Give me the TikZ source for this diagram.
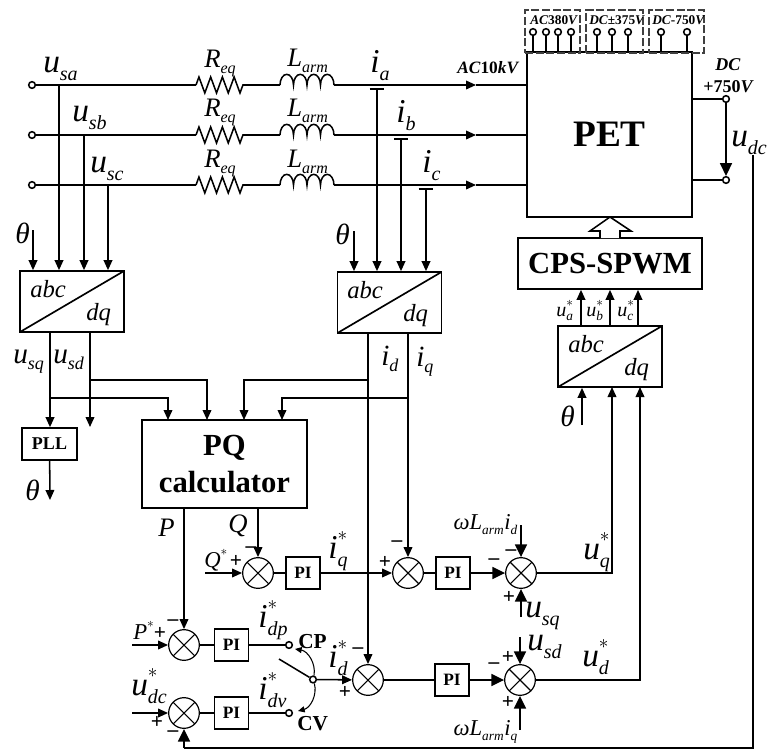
\documentclass[tikz,border=0pt]{standalone}
\usepackage{mathspec}
\setmainfont{Liberation Serif}
\setmathsfont(Digits,Latin,Greek){Liberation Serif}
\DeclareMathSizes{25}{25}{15}{13}
\DeclareMathSizes{22}{22}{13.5}{11}
\DeclareMathSizes{20}{20}{12}{10}
\DeclareMathSizes{17}{17}{10}{9}
\DeclareMathSizes{15}{15}{10}{8}
\everymath{\fontdimen16\textfont2=.25\fontdimen6\textfont2
	\fontdimen17\textfont2=.25\fontdimen6\textfont2
	\fontdimen13\textfont2=.52\fontdimen6\textfont2
	\fontdimen14\textfont2=.52\fontdimen6\textfont2
	\fontdimen15\textfont2=.52\fontdimen6\textfont2}
\usepackage{tikz}
\usetikzlibrary{positioning}
\usetikzlibrary{calc}
\usetikzlibrary{arrows.meta}
\usetikzlibrary{decorations.pathmorphing}

\tikzset{
	wire/.style={line width=1.15pt},
	arrowed/.style={wire, -{Triangle[length=7.5pt,width=6.5pt]}},
	bigarrow/.style={wire, -{Triangle[length=9.5pt,width=9pt]}},
	swingarrow/.style={line width=0.8pt, -{Triangle[length=5pt,width=4.5pt]}},
	resistor/.style={wire, decorate, decoration={zigzag, segment length=8.8pt, amplitude=6pt}},
	pinnode/.style={draw, circle, wire, fill=white, inner sep=0pt, minimum size=5pt},
	blockbox/.style={draw, rectangle, line width=1.25pt, inner sep=0pt},
	pibox/.style={blockbox, minimum width=25.5pt, minimum height=24pt, font=\fontsize{13}{13}\selectfont\bfseries},
	dashbox/.style={draw=black!75, rectangle, line width=0.8pt, dash pattern=on 6pt off 2pt, inner sep=0pt},
	sumnode/.style={draw, circle, line width=0.9pt, inner sep=0pt, minimum size=23pt,
		path picture={
			\draw[line width=0.8pt] (path picture bounding box.north west) -- (path picture bounding box.south east);
			\draw[line width=0.8pt] (path picture bounding box.north east) -- (path picture bounding box.south west);
		}},
	convbox/.style={blockbox, minimum width=78pt, minimum height=45.75pt,
		path picture={
			\draw[line width=1.25pt] (path picture bounding box.south west) -- (path picture bounding box.north east);
		}},
	biglbl/.style={anchor=base west, inner sep=0pt, font=\fontsize{25}{25}\selectfont},
	midlbl/.style={anchor=base west, inner sep=0pt, font=\fontsize{22}{22}\selectfont},
	stdlbl/.style={anchor=base west, inner sep=0pt, font=\fontsize{20}{20}\selectfont},
	loadlbl/.style={anchor=base west, inner sep=0pt, font=\fontsize{17}{17}\selectfont},
	reflbl/.style={anchor=base west, inner sep=0pt, font=\fontsize{15}{15}\selectfont},
	convlbl/.style={anchor=base west, inner sep=0pt, font=\fontsize{18.5}{19}\selectfont\itshape},
	boldlbl/.style={anchor=base west, inner sep=0pt, font=\fontsize{13.5}{15}\selectfont\bfseries},
	portlbl/.style={anchor=base west, inner sep=0pt, font=\fontsize{10}{10}\selectfont\bfseries},
	signlbl/.style={inner sep=0pt, font=\fontsize{16}{16}\selectfont\bfseries},
}

\newcommand{\armcoil}[1]{
	\draw[wire] (#1) arc[start angle=180, end angle=0, x radius=5.06pt, y radius=8pt]
		arc[start angle=180, end angle=0, x radius=5.06pt, y radius=8pt]
		arc[start angle=180, end angle=0, x radius=5.06pt, y radius=8pt]
		arc[start angle=180, end angle=0, x radius=5.06pt, y radius=8pt];
}

\begin{document}
\begin{tikzpicture}[x=0.75pt, y=-0.75pt]
	\useasboundingbox (0,0) rectangle (768,750);

	% blocks
	\node[blockbox, minimum width=123.75pt, minimum height=123.75pt, font=\fontsize{28}{28}\selectfont\bfseries] (PET) at (609.5,134.5) {PET};
	\node[blockbox, minimum width=138pt, minimum height=38.25pt, font=\fontsize{23}{23}\selectfont\bfseries] (CPS) at (610,263.5) {CPS-SPWM};
	\node[convbox] (convS) at (72,301.5) {};
	\node[convbox] (convI) at (389.5,302.5) {};
	\node[convbox] (convU) at (610,356.5) {};
	\node[convlbl] (abcS) at (30,297) {abc};
	\node[convlbl] (dqS) at (86,320) {dq};
	\node[convlbl] (abcI) at (347,298) {abc};
	\node[convlbl] (dqI) at (403,321) {dq};
	\node[convlbl] (abcU) at (568,352) {abc};
	\node[convlbl] (dqU) at (624,375) {dq};
	\node[blockbox, minimum width=123.75pt, minimum height=66pt, align=center, font=\fontsize{23}{27.75}\selectfont\bfseries] (PQ) at (224.5,464) {PQ\\calculator};
	\node[blockbox, minimum width=41.25pt, minimum height=24pt, font=\fontsize{13.5}{13.5}\selectfont\bfseries] (PLL) at (49.5,444) {PLL};

	\node[sumnode] (sumQ) at (258,573) {};
	\node[pibox] (PIq) at (303,573) {PI};
	\node[sumnode] (sumIq) at (408,573) {};
	\node[pibox] (PIuq) at (453,573) {PI};
	\node[sumnode] (sumUq) at (521,573) {};
	\node[sumnode] (sumP) at (184,645) {};
	\node[pibox] (PIp) at (231.5,645) {PI};
	\node[sumnode] (sumDc) at (184,713) {};
	\node[pibox] (PIv) at (231.5,713) {PI};
	\node[sumnode] (sumId) at (368,680) {};
	\node[pibox] (PIud) at (452,680) {PI};
	\node[sumnode] (sumUd) at (520,680) {};

	% three phase lines
	\node[pinnode] (ta) at (32,85) {};
	\node[pinnode] (tb) at (32,135) {};
	\node[pinnode] (tc) at (32,185) {};
	\coordinate (Ra1) at (196,85);
	\coordinate (Ra2) at (243,85);
	\coordinate (Rb1) at (196,135);
	\coordinate (Rb2) at (243,135);
	\coordinate (Rc1) at (196,185);
	\coordinate (Rc2) at (243,185);
	\coordinate (La1) at (280,85);
	\coordinate (La2) at (334,85);
	\coordinate (Lb1) at (280,135);
	\coordinate (Lb2) at (334,135);
	\coordinate (Lc1) at (280,185);
	\coordinate (Lc2) at (334,185);
	\coordinate (Aa) at (476,85);
	\coordinate (Ab) at (476,135);
	\coordinate (Ac) at (476,185);
	\draw[wire] (ta) -- (Ra1);
	\draw[wire] (tb) -- (Rb1);
	\draw[wire] (tc) -- (Rc1);
	\draw[resistor] (Ra1) -- (Ra2);
	\draw[resistor] (Rb1) -- (Rb2);
	\draw[resistor] (Rc1) -- (Rc2);
	\draw[wire] (Ra2) -- (La1);
	\draw[wire] (Rb2) -- (Lb1);
	\draw[wire] (Rc2) -- (Lc1);
	\armcoil{La1}
	\armcoil{Lb1}
	\armcoil{Lc1}
	\draw[arrowed] (La2) -- (Aa);
	\draw[arrowed] (Lb2) -- (Ab);
	\draw[arrowed] (Lc2) -- (Ac);
	\draw[wire] (Aa) -- (Aa -| PET.west);
	\draw[wire] (Ab) -- (Ab -| PET.west);
	\draw[wire] (Ac) -- (Ac -| PET.west);

	% measurements into the converters
	\coordinate (sa) at (59,85);
	\coordinate (sb) at (84,135);
	\coordinate (sc) at (108,185);
	\coordinate (thS) at (33,230);
	\draw[arrowed] (sa) -- (sa |- convS.north);
	\draw[arrowed] (sb) -- (sb |- convS.north);
	\draw[arrowed] (sc) -- (sc |- convS.north);
	\draw[arrowed] (thS) -- (thS |- convS.north);
	\coordinate (ca) at (377,89);
	\coordinate (cb) at (401,139);
	\coordinate (cc) at (426,189);
	\coordinate (thI) at (354,231);
	\draw[arrowed] (ca) -- (ca |- convI.north);
	\draw[arrowed] (cb) -- (cb |- convI.north);
	\draw[arrowed] (cc) -- (cc |- convI.north);
	\draw[arrowed] (thI) -- (thI |- convI.north);
	\draw[wire] ($(ca)+(-5.5pt,0)$) -- ($(ca)+(5.5pt,0)$);
	\draw[wire] ($(cb)+(-5pt,0)$) -- ($(cb)+(5pt,0)$);
	\draw[wire] ($(cc)+(-5.5pt,0)$) -- ($(cc)+(5.5pt,0)$);

	% dq signals to PLL and PQ calculator
	\coordinate (sq) at (50,398);
	\coordinate (sd) at (90,380);
	\coordinate (sdEnd) at (90,427);
	\coordinate (id) at (368,380);
	\coordinate (iq) at (408,398);
	\coordinate (pqa) at (168,420);
	\coordinate (pqb) at (207,420);
	\coordinate (pqc) at (244,420);
	\coordinate (pqd) at (282,420);
	\draw[arrowed] (sq |- convS.south) -- (sq |- PLL.north);
	\draw[arrowed] (sd |- convS.south) -- (sdEnd);
	\draw[arrowed] (sq) -| (pqa);
	\draw[arrowed] (sd) -| (pqb);
	\draw[arrowed] (id) -| (pqc);
	\draw[arrowed] (iq) -| (pqd);
	\coordinate (thPLL) at (50,500);
	\draw[arrowed] (PLL) -- (thPLL);
	\draw[arrowed] (sumId |- convI.south) -- (sumId);
	\draw[arrowed] (sumIq |- convI.south) -- (sumIq);

	% control loops
	\coordinate (Qref) at (205,573);
	\coordinate (Pref) at (132,645);
	\coordinate (Dcref) at (132,713);
	\node[pinnode] (pCP) at (289,645) {};
	\node[pinnode] (pCV) at (289,713) {};
	\node[pinnode] (swp) at (313,679.5) {};
	\coordinate (swb) at (279,659);
	\coordinate (swUp) at (295,649);
	\coordinate (swDn) at (298,711);
	\draw[arrowed] (sumP |- PQ.south) -- (sumP);
	\draw[arrowed] (sumQ |- PQ.south) -- (sumQ);
	\draw[arrowed] (Qref) -- (sumQ);
	\draw[wire] (sumQ) -- (PIq);
	\draw[arrowed] (PIq) -- (sumIq);
	\draw[wire] (sumIq) -- (PIuq);
	\draw[bigarrow] (PIuq) -- (sumUq);
	\draw[arrowed] (Pref) -- (sumP);
	\draw[wire] (sumP) -- (PIp);
	\draw[wire] (PIp) -- (pCP);
	\draw[arrowed] (Dcref) -- (sumDc);
	\draw[wire] (sumDc) -- (PIv);
	\draw[wire] (PIv) -- (pCV);
	\draw[wire] (swp) -- (swb);
	\draw[arrowed] (swp) -- (sumId);
	\draw[swingarrow] (swp) to[bend right=45] (swUp);
	\draw[swingarrow] (swp) to[bend left=45] (swDn);
	\draw[wire] (sumId) -- (PIud);
	\draw[bigarrow] (PIud) -- (sumUd);

	% decoupling inputs
	\coordinate (wq) at (521,525);
	\coordinate (vq) at (521,617);
	\coordinate (vd) at (520,637);
	\coordinate (wd) at (520,730);
	\draw[bigarrow] (wq) -- (sumUq);
	\draw[bigarrow] (vq) -- (sumUq);
	\draw[bigarrow] (vd) -- (sumUd);
	\draw[bigarrow] (wd) -- (sumUd);

	% references back to the modulator
	\coordinate (uqIn) at (612,387);
	\coordinate (udIn) at (640,387);
	\coordinate (thU) at (582,425);
	\draw[arrowed] (sumUq) -| (uqIn);
	\draw[arrowed] (sumUd) -| (udIn);
	\draw[arrowed] (thU) -- (thU |- convU.south);
	\coordinate (ua) at (581,326);
	\coordinate (ub) at (610,326);
	\coordinate (uc) at (638,326);
	\draw[arrowed] (ua) -- (ua |- CPS.south);
	\draw[arrowed] (ub) -- (ub |- CPS.south);
	\draw[arrowed] (uc) -- (uc |- CPS.south);
	\draw[wire, fill=white] (600,238) -- (600,231) -- (590,231) -- (610,217) -- (631,231) -- (620,231) -- (620,238);

	% dc side
	\node[pinnode] (dcp) at (726,99) {};
	\node[pinnode] (dcn) at (726,180) {};
	\draw[wire] (dcp) -- (dcp -| PET.east);
	\draw[wire] (dcn) -- (dcn -| PET.east);
	\draw[bigarrow] (dcp) -- (dcn);
	\coordinate (fbTop) at (753,155);
	\coordinate (fbCor) at (184,748);
	\draw[wire] (fbTop) |- (fbCor);
	\draw[bigarrow] (fbCor) -- (sumDc);

	% ports on top
	\node[dashbox, minimum width=41.25pt, minimum height=32.25pt] (portA) at (552.5,31.5) {};
	\node[dashbox, minimum width=42.75pt, minimum height=32.25pt] (portB) at (614.5,31.5) {};
	\node[dashbox, minimum width=41.25pt, minimum height=32.25pt] (portC) at (676.5,31.5) {};
	\node[pinnode] (p1) at (533,32) {};
	\node[pinnode] (p2) at (546,32) {};
	\node[pinnode] (p3) at (558,32) {};
	\node[pinnode] (p4) at (571,32) {};
	\node[pinnode] (p5) at (597,32) {};
	\node[pinnode] (p6) at (612,32) {};
	\node[pinnode] (p7) at (628,32) {};
	\node[pinnode] (p8) at (661,32) {};
	\node[pinnode] (p9) at (687,32) {};
	\draw[wire] (p1) -- (p1 |- PET.north);
	\draw[wire] (p2) -- (p2 |- PET.north);
	\draw[wire] (p3) -- (p3 |- PET.north);
	\draw[wire] (p4) -- (p4 |- PET.north);
	\draw[wire] (p5) -- (p5 |- PET.north);
	\draw[wire] (p6) -- (p6 |- PET.north);
	\draw[wire] (p7) -- (p7 |- PET.north);
	\draw[wire] (p8) -- (p8 |- PET.north);
	\draw[wire] (p9) -- (p9 |- PET.north);
	\node[portlbl] (lA) at (530,24) {\textit{AC}380\textit{V}};
	\node[portlbl] (lB) at (589,24) {\textit{DC}±375\textit{V}};
	\node[portlbl] (lC) at (652,24) {\textit{DC}-750\textit{V}};
	\node[boldlbl, font=\fontsize{13}{15}\selectfont\bfseries] (lAC) at (457,73) {\textit{AC}10\textit{kV}};
	\node[boldlbl] (lDC) at (715,70) {\textit{DC}};
	\node[boldlbl] (lDCv) at (703,92) {+750\textit{V}};

	% labels
	\node[biglbl] (lsa) at (43,72) {$u_{sa}$};
	\node[biglbl] (lsb) at (72,121) {$u_{sb}$};
	\node[biglbl] (lsc) at (90,172) {$u_{sc}$};
	\node[stdlbl] (lR1) at (204,67) {$R_{eq}$};
	\node[stdlbl] (lR2) at (204,116) {$R_{eq}$};
	\node[stdlbl] (lR3) at (204,167) {$R_{eq}$};
	\node[stdlbl] (lL1) at (287,66) {$L_{arm}$};
	\node[stdlbl] (lL2) at (287,116) {$L_{arm}$};
	\node[stdlbl] (lL3) at (287,167) {$L_{arm}$};
	\node[biglbl] (lia) at (370,72) {$i_{a}$};
	\node[biglbl] (lib) at (396,122) {$i_{b}$};
	\node[biglbl] (lic) at (422,172) {$i_{c}$};
	\node[biglbl] (ldc) at (731,146) {$u_{dc}$};
	\node[midlbl] (lth1) at (15,243) {$\theta$};
	\node[midlbl] (lth2) at (335,244) {$\theta$};
	\node[midlbl] (lth3) at (25,500) {$\theta$};
	\node[midlbl] (lth4) at (560,426) {$\theta$};
	\node[midlbl] (lsq) at (13,363) {$u_{sq}$};
	\node[midlbl] (lsd) at (53,363) {$u_{sd}$};
	\node[midlbl] (lid) at (381,365) {$i_{d}$};
	\node[midlbl] (liq) at (416,366) {$i_{q}$};
	\node[reflbl] (lua) at (556,316) {$u_{a}^{*}$};
	\node[reflbl] (lub) at (586,316) {$u_{b}^{*}$};
	\node[reflbl] (luc) at (617,316) {$u_{c}^{*}$};
	\node[stdlbl] (lP) at (158,536) {$P$};
	\node[stdlbl] (lQ) at (228,532) {$Q$};
	\node[loadlbl] (lQs) at (204,567) {$Q^{*}$};
	\node[loadlbl] (lPs) at (133,639) {$P^{*}$};
	\node[biglbl] (liqs) at (328,558) {$i_{q}^{*}$};
	\node[biglbl] (lidp) at (258,627) {$i_{dp}^{*}$};
	\node[biglbl] (lidv) at (258,699) {$i_{dv}^{*}$};
	\node[biglbl] (lids) at (328,667) {$i_{d}^{*}$};
	\node[biglbl] (ludc) at (131,695) {$u_{dc}^{*}$};
	\node[boldlbl, font=\fontsize{16}{16}\selectfont\bfseries] (lCP) at (298,648) {CP};
	\node[boldlbl, font=\fontsize{16}{16}\selectfont\bfseries] (lCV) at (297,730) {CV};
	\node[loadlbl] (lwd) at (453,529) {$\omega L_{arm}i_{d}$};
	\node[loadlbl] (lwq) at (453,735) {$\omega L_{arm}i_{q}$};
	\node[biglbl] (lvq) at (525,617) {$u_{sq}$};
	\node[biglbl] (lvd) at (527,650) {$u_{sd}$};
	\node[biglbl] (luq) at (583,559) {$u_{q}^{*}$};
	\node[biglbl] (lud) at (582,666) {$u_{d}^{*}$};

	% signs
	\node[signlbl] (s1) at (236,561) {+};
	\node[signlbl] (s2) at (251,550) {--};
	\node[signlbl] (s3) at (160,633) {+};
	\node[signlbl] (s4) at (173,623) {--};
	\node[signlbl] (s5) at (157,722) {+};
	\node[signlbl] (s6) at (173,734) {--};
	\node[signlbl] (s7) at (385,562) {+};
	\node[signlbl] (s8) at (397,544) {--};
	\node[signlbl] (s9) at (358,651) {--};
	\node[signlbl] (s10) at (345,692) {+};
	\node[signlbl] (s11) at (494,562) {--};
	\node[signlbl] (s12) at (511,553) {--};
	\node[signlbl] (s13) at (509,597) {+};
	\node[signlbl] (s14) at (494,666) {--};
	\node[signlbl] (s15) at (508,657) {+};
	\node[signlbl] (s16) at (508,702) {+};
\end{tikzpicture}
\end{document}
